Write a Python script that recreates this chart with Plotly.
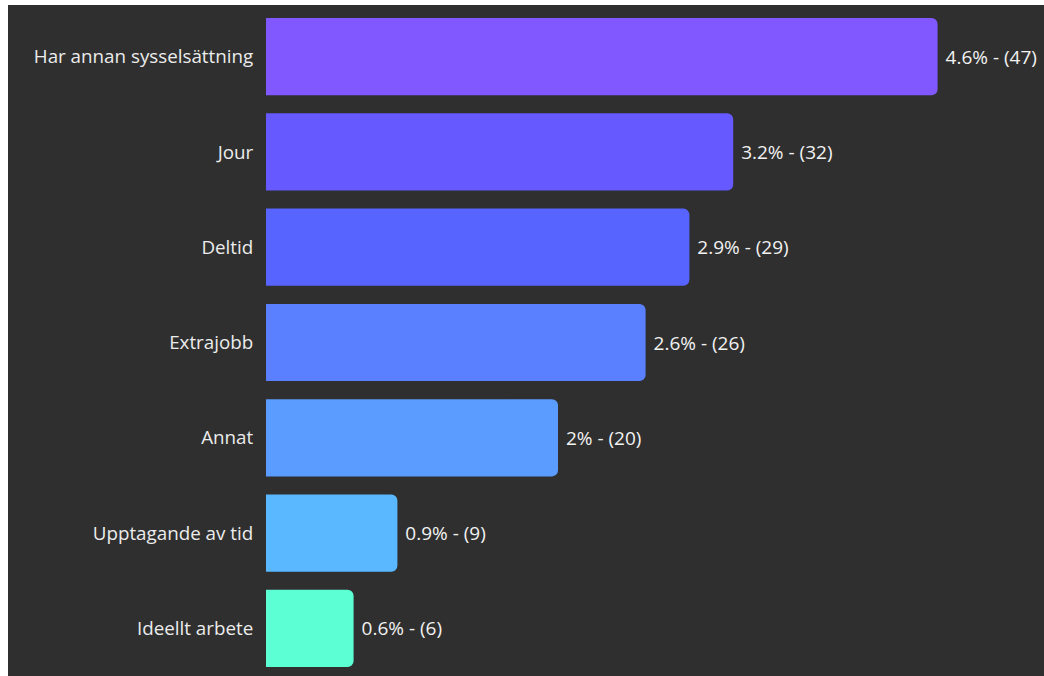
import plotly.graph_objects as go

categories = ["Har annan sysselsättning", "Jour", "Deltid", "Extrajobb", "Annat",
              "Upptagande av tid", "Ideellt arbete"]
percents = [4.6, 3.2, 2.9, 2.6, 2.0, 0.9, 0.6]
pct_labels = ["4.6%", "3.2%", "2.9%", "2.6%", "2%", "0.9%", "0.6%"]
counts = [47, 32, 29, 26, 20, 9, 6]
colors = ["#8158FF", "#6559FF", "#5764FF", "#5A80FF", "#5A9CFF", "#59B8FF", "#5CFFD4"]

W, H = 1044, 676
ML, MR, MT, MB = 266, 0, 9, 0
BG = "#2f2f2f"
FONT = "'Open Sans', Lato, sans-serif"

texts = [f" {p} - ({c})" for p, c in zip(pct_labels, counts)]

fig = go.Figure(go.Bar(
    x=percents, y=categories, orientation="h",
    marker=dict(color=colors, line=dict(width=0)),
    text=texts, textposition="outside", cliponaxis=False,
    textfont=dict(color="#f2f2f2", size=19, family=FONT),
    hoverinfo="skip",
))

pw = W - ML - MR
ph = H - MT - MB
fig.update_layout(
    width=W, height=H,
    margin=dict(l=ML, r=MR, t=MT, b=MB, pad=0),
    paper_bgcolor=BG, plot_bgcolor=BG,
    bargap=0.19, barcornerradius=6,
    showlegend=False,
    uniformtext=dict(mode=False),
    xaxis=dict(range=[0, pw / 146.0], visible=False, fixedrange=True),
    yaxis=dict(autorange="reversed", showgrid=False, zeroline=False, showline=False,
               ticks="outside", ticklen=8, tickcolor="rgba(0,0,0,0)",
               tickfont=dict(color="#ececec", size=18.8, family=FONT), fixedrange=True),
    shapes=[
        dict(type="rect", xref="paper", yref="paper",
             x0=-ML / pw, x1=(-ML + 8) / pw, y0=-MB / ph, y1=1 + MT / ph,
             fillcolor="white", line=dict(width=0), layer="above"),
        dict(type="rect", xref="paper", yref="paper",
             x0=-ML / pw, x1=1 + MR / pw, y0=1 + (MT - 5) / ph, y1=1 + MT / ph,
             fillcolor="white", line=dict(width=0), layer="above"),
    ],
)

fig.write_html("out.html")
